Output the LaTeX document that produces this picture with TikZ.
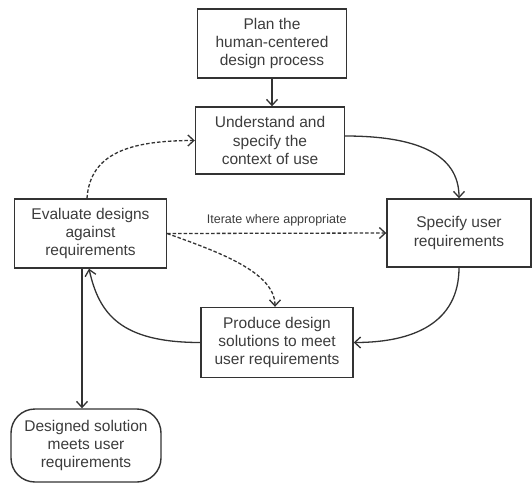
\documentclass[tikz,border=0pt]{standalone}
\usepackage{fontspec}
\setmainfont{Liberation Sans}
\usetikzlibrary{arrows.meta}
\definecolor{ink}{HTML}{333333}
\definecolor{txt}{HTML}{3C3C3C}
\begin{document}
\begin{tikzpicture}[x=1pt,y=-1pt,
  box/.style={draw=ink,line width=1.4pt,minimum width=#1,inner sep=0pt,align=center,
    text=txt,font=\fontsize{15.5}{18.3}\selectfont},
  conn/.style={draw=ink,line width=1.3pt,-{Straight Barb[length=6pt,width=11pt,line width=1.3pt]}},
  dconn/.style={conn,dash pattern=on 3.5pt off 2pt}]
\useasboundingbox (0,0) rectangle (532,483);
\node[box=149pt,minimum height=69pt] (plan) at (272,43.5) {Plan the\\human-centered\\design process};
\node[box=149pt,minimum height=67pt] (und) at (270,140.5) {Understand and\\specify the\\context of use};
\node[box=152pt,minimum height=69pt] (eval) at (90.5,233.5) {Evaluate designs\\against\\requirements};
\node[box=144pt,minimum height=68pt] (spec) at (459,233) {Specify user\\requirements};
\node[box=152pt,minimum height=70pt] (prod) at (277,342.5) {Produce design\\solutions to meet\\user requirements};
\node[box=150pt,minimum height=73pt,rounded corners=24pt] (des) at (86,445.5) {Designed solution\\meets user\\requirements};

\draw[conn] (plan.south) -- (plan.south |- und.north);
\draw[conn] ([yshift=4.5pt]und.east) .. controls +(70,0) and +(0,-45) .. (spec.north);
\draw[conn] (spec.south) .. controls +(0,55) and +(60,0) .. (prod.east);
\draw[conn] (prod.west) .. controls +(-80,0) and +(10,45) .. ([xshift=-1.5pt]eval.south);
\draw[conn] ([xshift=-8.5pt]eval.south) -- ([xshift=-8.5pt]eval.south |- des.north);
\draw[dconn] ([xshift=-3.5pt]eval.north) .. controls +(3,-45) and +(-65,0) .. (und.west);
\draw[dconn] (eval.east) -- node[above=3pt,text=txt,font=\fontsize{12.5}{14}\selectfont] {Iterate where appropriate} (spec.west);
\draw[dconn] (eval.east) .. controls +(50,18) and +(0,-35) .. ([xshift=-2pt]prod.north);
\end{tikzpicture}
\end{document}
